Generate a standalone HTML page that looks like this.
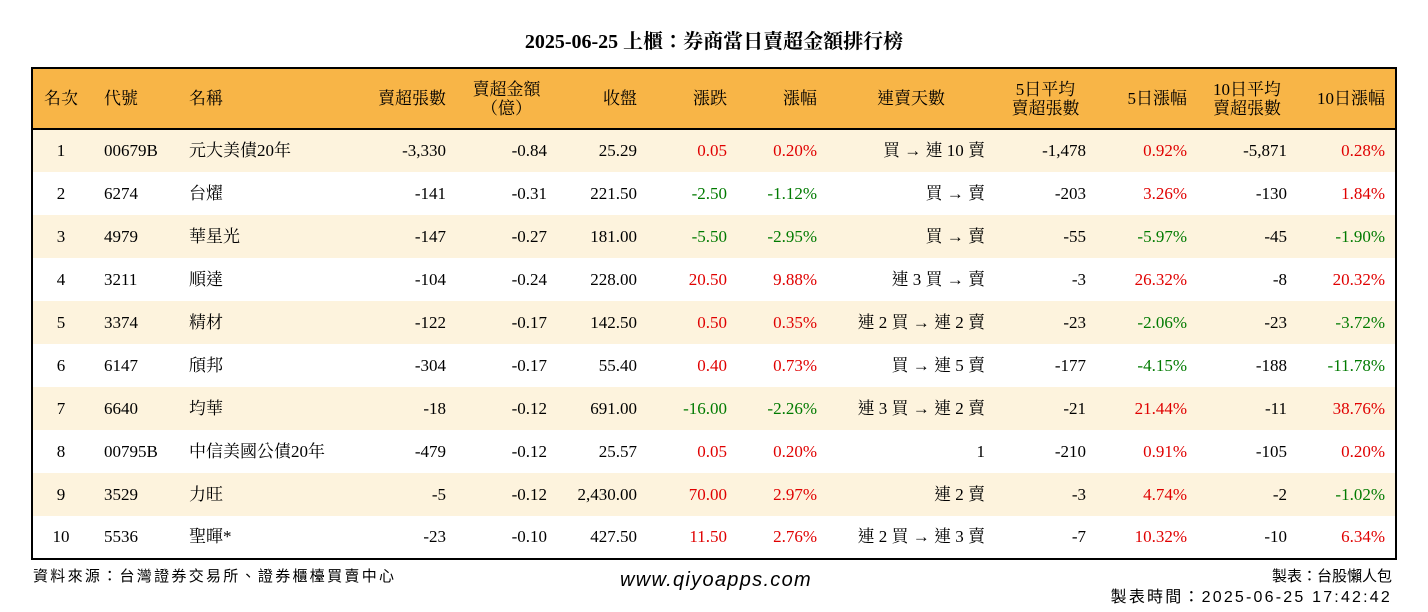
<!DOCTYPE html>
<html><head><meta charset="utf-8"><style>
body{margin:0;width:1428px;height:612px;background:#fff;position:relative;overflow:hidden;font-family:"Liberation Serif","Noto Serif CJK TC",serif;color:#000}
.title{position:absolute;left:0;width:1428px;top:29px;text-align:center;font-size:20px;font-weight:bold;line-height:26px}
table{position:absolute;left:31px;top:67px;border-collapse:collapse;table-layout:fixed;border:2px solid #000;font-size:17px}
th{background:#f8b547;height:59px;font-weight:normal;line-height:19px;border-bottom:2px solid #000;padding:0 10px 0 0;text-align:right}
td{height:43px;line-height:18px;padding:0 10px 0 0;text-align:right;white-space:nowrap;box-sizing:border-box}
tr.o td{background:#fdf3dd}
.c{text-align:center;padding:0}
.l{text-align:left}
.r{color:#e00000}.g{color:#007a00}
.foot{position:absolute;font-family:"Liberation Sans","Noto Sans CJK TC",sans-serif;font-size:15px;line-height:18px;white-space:nowrap}
</style></head><body>
<div class="title">2025-06-25 上櫃：券商當日賣超金額排行榜</div>
<table>
<colgroup><col style="width:57px"><col style="width:92px"><col style="width:170px"><col style="width:105px"><col style="width:101px"><col style="width:90px"><col style="width:90px"><col style="width:90px"><col style="width:168px"><col style="width:101px"><col style="width:101px"><col style="width:100px"><col style="width:99px"></colgroup>
<thead><tr>
<th class="c">名次</th><th class="l" style="padding-left:15px">代號</th><th class="l" style="padding-left:8px">名稱</th><th>賣超張數</th><th class="c">賣超金額<br>（億）</th><th>收盤</th><th>漲跌</th><th>漲幅</th><th class="c">連賣天數</th><th class="c">5日平均<br>賣超張數</th><th>5日漲幅</th><th class="c">10日平均<br>賣超張數</th><th>10日漲幅</th>
</tr></thead>
<tbody>
<tr class="o"><td class="c">1</td><td class="l" style="padding-left:15px">00679B</td><td class="l" style="padding-left:8px">元大美債20年</td><td>-3,330</td><td>-0.84</td><td>25.29</td><td class="r">0.05</td><td class="r">0.20%</td><td>買 → 連 10 賣</td><td>-1,478</td><td class="r">0.92%</td><td>-5,871</td><td class="r">0.28%</td></tr>
<tr><td class="c">2</td><td class="l" style="padding-left:15px">6274</td><td class="l" style="padding-left:8px">台燿</td><td>-141</td><td>-0.31</td><td>221.50</td><td class="g">-2.50</td><td class="g">-1.12%</td><td>買 → 賣</td><td>-203</td><td class="r">3.26%</td><td>-130</td><td class="r">1.84%</td></tr>
<tr class="o"><td class="c">3</td><td class="l" style="padding-left:15px">4979</td><td class="l" style="padding-left:8px">華星光</td><td>-147</td><td>-0.27</td><td>181.00</td><td class="g">-5.50</td><td class="g">-2.95%</td><td>買 → 賣</td><td>-55</td><td class="g">-5.97%</td><td>-45</td><td class="g">-1.90%</td></tr>
<tr><td class="c">4</td><td class="l" style="padding-left:15px">3211</td><td class="l" style="padding-left:8px">順達</td><td>-104</td><td>-0.24</td><td>228.00</td><td class="r">20.50</td><td class="r">9.88%</td><td>連 3 買 → 賣</td><td>-3</td><td class="r">26.32%</td><td>-8</td><td class="r">20.32%</td></tr>
<tr class="o"><td class="c">5</td><td class="l" style="padding-left:15px">3374</td><td class="l" style="padding-left:8px">精材</td><td>-122</td><td>-0.17</td><td>142.50</td><td class="r">0.50</td><td class="r">0.35%</td><td>連 2 買 → 連 2 賣</td><td>-23</td><td class="g">-2.06%</td><td>-23</td><td class="g">-3.72%</td></tr>
<tr><td class="c">6</td><td class="l" style="padding-left:15px">6147</td><td class="l" style="padding-left:8px">頎邦</td><td>-304</td><td>-0.17</td><td>55.40</td><td class="r">0.40</td><td class="r">0.73%</td><td>買 → 連 5 賣</td><td>-177</td><td class="g">-4.15%</td><td>-188</td><td class="g">-11.78%</td></tr>
<tr class="o"><td class="c">7</td><td class="l" style="padding-left:15px">6640</td><td class="l" style="padding-left:8px">均華</td><td>-18</td><td>-0.12</td><td>691.00</td><td class="g">-16.00</td><td class="g">-2.26%</td><td>連 3 買 → 連 2 賣</td><td>-21</td><td class="r">21.44%</td><td>-11</td><td class="r">38.76%</td></tr>
<tr><td class="c">8</td><td class="l" style="padding-left:15px">00795B</td><td class="l" style="padding-left:8px">中信美國公債20年</td><td>-479</td><td>-0.12</td><td>25.57</td><td class="r">0.05</td><td class="r">0.20%</td><td>1</td><td>-210</td><td class="r">0.91%</td><td>-105</td><td class="r">0.20%</td></tr>
<tr class="o"><td class="c">9</td><td class="l" style="padding-left:15px">3529</td><td class="l" style="padding-left:8px">力旺</td><td>-5</td><td>-0.12</td><td>2,430.00</td><td class="r">70.00</td><td class="r">2.97%</td><td>連 2 賣</td><td>-3</td><td class="r">4.74%</td><td>-2</td><td class="g">-1.02%</td></tr>
<tr><td class="c">10</td><td class="l" style="padding-left:15px">5536</td><td class="l" style="padding-left:8px">聖暉*</td><td>-23</td><td>-0.10</td><td>427.50</td><td class="r">11.50</td><td class="r">2.76%</td><td>連 2 買 → 連 3 賣</td><td>-7</td><td class="r">10.32%</td><td>-10</td><td class="r">6.34%</td></tr>
</tbody></table>
<div class="foot" style="left:33px;top:568px;letter-spacing:2.3px">資料來源：台灣證券交易所、證券櫃檯買賣中心</div>
<div class="foot" style="left:620px;top:568px;font-size:20px;line-height:24px;font-style:italic;letter-spacing:1.3px">www.qiyoapps.com</div>
<div class="foot" style="right:36px;top:568px;text-align:right;letter-spacing:0px">製表：台股懶人包</div>
<div class="foot" style="right:36px;top:589px;text-align:right;letter-spacing:2.2px;font-size:16px">製表時間：2025-06-25 17:42:42</div>
</body></html>
